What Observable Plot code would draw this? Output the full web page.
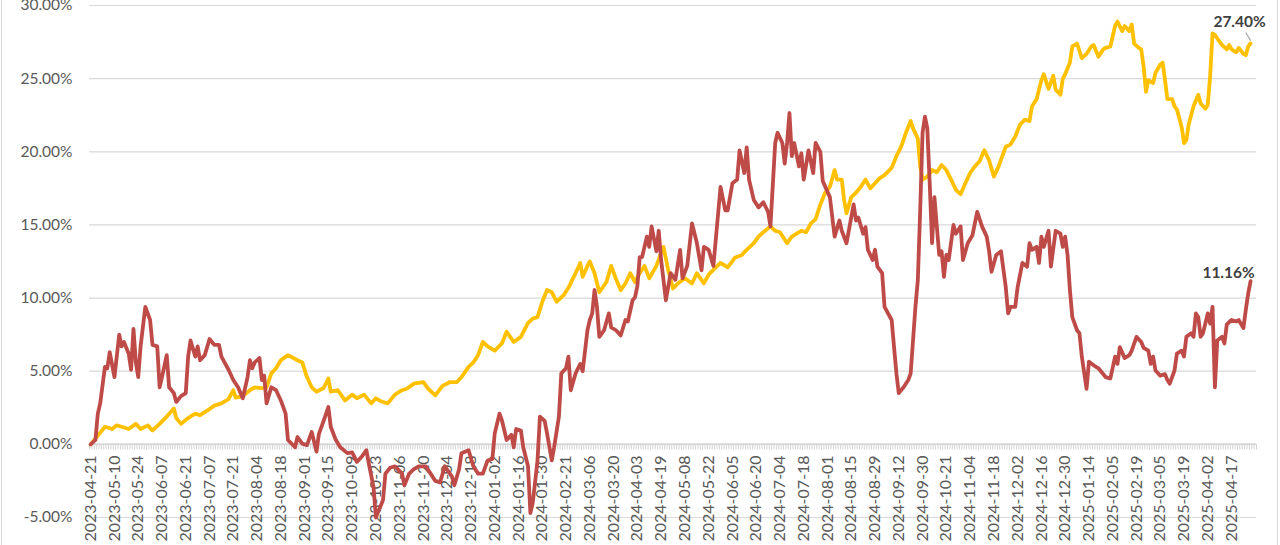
<!DOCTYPE html>
<html>
<head>
<meta charset="utf-8">
<script src="https://cdn.jsdelivr.net/npm/d3@7"></script>
<script src="https://cdn.jsdelivr.net/npm/@observablehq/plot@0.6"></script>
<style>
  html, body { margin: 0; padding: 0; background: #fff; overflow: hidden; }
  #wrap { position: relative; width: 1280px; height: 545px; }
  .edge { position: absolute; top: 0; width: 1px; height: 545px; background: #d9d9d9; }
</style>
</head>
<body>
<div id="wrap">
  <div class="edge" style="left:1px"></div>
  <div class="edge" style="left:1277px"></div>
</div>
<script>
// Category axis: trading days, labelled every 10th day
const tickLabels = [
  "2023-04-21","2023-05-10","2023-05-24","2023-06-07","2023-06-21","2023-07-07","2023-07-21",
  "2023-08-04","2023-08-18","2023-09-01","2023-09-15","2023-10-09","2023-10-23","2023-11-06",
  "2023-11-20","2023-12-04","2023-12-18","2024-01-02","2024-01-16","2024-01-30","2024-02-21",
  "2024-03-06","2024-03-20","2024-04-03","2024-04-19","2024-05-08","2024-05-22","2024-06-05",
  "2024-06-20","2024-07-04","2024-07-18","2024-08-01","2024-08-15","2024-08-29","2024-09-12",
  "2024-09-30","2024-10-21","2024-11-04","2024-11-18","2024-12-02","2024-12-16","2024-12-30",
  "2025-01-14","2025-02-05","2025-02-19","2025-03-05","2025-03-19","2025-04-02","2025-04-17"
];
const tickStep = 10;
const categoryCount = 491;
const yTicks = [-5, 0, 5, 10, 15, 20, 25, 30];

// Red series (trading-day index, cumulative return %)
const redDay = [0,2,3,4,6,7,8,10,12,13,14,16,17,18,19,20,21,23,25,26,28,29,30,32,33,35,36,38,40,41,42,44,45,46,48,50,52,54,55,58,60,62,64,66,67,68,69,71,72,73,74,76,78,80,82,83,
86,87,89,91,93,95,96,98,100,101,103,105,108,110,112,114,116,117,119,120,121,123,124,126,128,131,132,134,136,138,141,143,145,147,149,152,153,155,156,159,161,163,165,167,169,170,172,173,175,177,178,179,181,182,184,185,186,188,189,191,192,194,195,197,198,200,201,202,204,206,207,209,210,211,212,213,214,216,218,219,221,223,225,226,228,229,230,231,232,234,235,236,238,239,240,242,244,246,248,249,251,253,255,
257,258,260,262,263,265,267,268,270,272,273,275,276,277,279,281,283,285,286,288,289,291,292,293,294,295,296,298,299,300,302,304,305,307,308,311,313,315,316,318,321,322,323,325,326,327,329,330,331,333,334,337,338,339,340,342,344,345,347,348,349,350,351,352,353,354,355,356,357,358,359,360,361,363,364,366,367,369,371,372,373,375,377,378,379,381,383,385,386,387,389,390,392,394,395,396,398,399,400,401,403,404,406,408,409,410,411,412,413,415,416,417,419,420,422,424,
427,429,431,432,433,435,437,438,440,442,443,445,446,447,448,450,452,453,454,456,457,459,460,461,463,464,465,466,467,468,470,471,472,473,474,476,477,478,480,482,483,485,486,487,488];
const redVal = [0.0,0.3,2.1,2.8,5.3,5.2,6.3,4.6,7.5,6.7,7.0,6.2,5.1,7.9,5.6,4.6,6.7,9.4,8.5,6.8,6.7,3.9,4.6,6.1,3.9,3.5,2.9,3.3,3.5,6.0,7.1,6.0,6.7,5.75,6.1,7.2,6.8,6.8,6.0,5.1,4.4,3.9,3.15,4.6,5.75,5.2,5.6,5.9,4.4,4.7,2.8,3.9,3.7,3.0,2.1,0.3,
-0.2,0.5,0.05,-0.05,0.85,-0.5,0.7,1.6,2.55,1.2,0.35,-0.2,-0.6,-0.55,-1.2,-0.85,-0.4,-1.3,-2.9,-5.0,-4.6,-3.8,-2.0,-1.6,-1.5,-2.0,-2.8,-2.0,-1.7,-1.5,-1.5,-2.0,-2.5,-2.6,-1.5,-2.2,-2.8,-1.7,-0.6,-0.4,-1.5,-2.0,-2.0,-1.1,-1.0,0.75,2.1,1.65,0.3,0.65,-0.2,1.05,0.95,-0.2,-1.5,-4.7,-4.0,-1.1,1.9,1.6,0.75,-1.1,-0.2,1.9,4.85,5.2,6.0,3.7,4.85,5.5,5.0,7.8,8.5,8.95,10.55,9.4,7.35,7.8,8.95,8.0,7.8,7.45,8.5,8.4,9.85,10.05,10.8,12.8,12.8,14.2,13.5,14.9,13.2,14.6,12.6,9.85,11.7,11.25,13.3,11.35,12.2,15.1,13.8,
11.9,13.5,13.3,12.2,14.0,17.6,16.0,16.0,17.85,18.1,20.1,18.55,20.3,18.1,16.7,16.2,16.55,15.9,14.9,20.6,21.3,20.6,19.2,20.6,22.65,19.7,20.6,19.0,19.9,18.1,20.1,18.55,20.6,20.0,18.0,16.9,14.2,15.3,14.6,13.75,16.4,15.3,15.5,14.4,14.85,13.3,12.6,13.3,12.15,11.7,9.4,8.5,6.65,4.85,3.5,3.9,4.4,4.85,9.4,11.2,16.0,21.3,22.4,21.6,17.85,13.75,16.9,14.9,12.95,13.2,11.45,12.95,12.6,15.0,14.4,14.9,12.6,13.75,14.3,15.1,15.9,14.9,14.2,13.2,11.8,12.95,13.2,10.75,8.95,9.4,9.4,10.75,12.4,12.15,13.75,13.3,13.5,12.4,14.2,13.5,14.6,12.15,14.6,14.4,13.5,14.2,12.95,10.55,8.7,7.8,7.6,6.0,3.8,5.65,5.4,5.2,
4.6,4.5,6.0,5.5,6.65,5.9,6.1,6.4,7.35,7.0,6.6,6.4,5.5,6.0,5.05,4.7,4.8,4.4,4.15,5.05,6.2,6.4,6.0,7.35,7.6,7.35,8.95,8.7,7.35,7.6,8.95,8.25,9.4,3.9,7.1,7.35,6.9,8.2,8.5,8.4,8.5,7.95,9.2,10.3,11.16];

// Gold series (trading-day index, cumulative return %)
const goldDay = [0,3,6,9,11,13,16,19,21,24,26,29,32,35,36,38,41,44,46,49,52,55,58,60,61,64,67,69,72,74,76,78,80,83,
87,89,91,93,95,98,100,101,104,107,110,112,115,118,120,122,125,128,131,133,136,140,142,145,148,151,154,156,159,161,163,165,167,170,173,175,178,181,184,186,188,190,192,194,196,199,201,204,206,207,209,210,212,214,217,219,221,223,225,227,229,231,233,235,238,240,241,243,245,247,250,253,255,
258,260,263,265,268,271,274,276,279,281,283,286,288,290,293,295,297,299,301,303,305,307,309,311,313,314,316,317,318,320,322,324,326,328,330,332,334,337,339,341,343,345,346,348,349,350,352,354,356,358,360,362,364,366,368,370,372,374,376,378,380,382,385,387,389,391,393,395,396,398,400,401,403,405,406,408,409,410,412,413,415,416,417,419,421,422,424,
426,427,429,431,432,434,435,437,438,439,441,442,443,444,445,447,448,450,451,452,453,455,456,457,459,460,461,462,463,464,466,467,469,470,471,472,473,475,476,478,479,480,482,483,485,486,487,488];
const goldVal = [0.0,0.6,1.2,1.05,1.3,1.2,1.05,1.4,1.05,1.3,0.95,1.4,1.9,2.45,1.8,1.4,1.8,2.1,2.0,2.3,2.65,2.8,3.1,3.7,3.2,3.3,3.7,3.9,3.85,3.9,4.85,5.2,5.75,6.1,
5.75,5.6,4.6,3.9,3.6,3.85,4.5,3.6,3.7,3.0,3.4,3.15,3.4,2.8,3.15,2.95,2.8,3.4,3.7,3.8,4.15,4.25,3.8,3.35,4.0,4.25,4.25,4.6,5.3,5.6,6.1,7.0,6.7,6.4,6.9,7.7,7.0,7.35,8.3,8.6,8.7,9.75,10.55,10.4,9.75,10.2,10.7,11.7,12.4,11.45,12.2,12.5,11.7,10.4,11.1,12.2,11.3,10.55,11.0,11.7,11.1,11.7,12.2,11.35,12.2,13.1,13.5,11.9,10.65,11.0,11.35,11.0,11.7,
11.0,11.6,12.1,12.4,12.1,12.75,12.95,13.3,13.75,14.2,14.5,14.9,14.6,14.5,13.75,14.2,14.4,14.6,14.5,15.1,15.4,16.4,17.2,17.6,18.75,18.1,18.1,16.7,15.8,16.9,17.2,17.6,18.1,17.5,17.85,18.2,18.4,18.9,19.7,20.35,21.3,22.1,21.6,20.9,19.0,18.1,18.3,18.75,18.6,19.1,18.75,18.1,17.4,17.1,17.85,18.55,19.0,19.35,20.1,19.4,18.3,19.0,20.35,20.5,21.05,21.85,22.2,22.1,23.1,23.6,24.9,25.3,24.3,25.2,24.25,23.9,25.0,25.3,26.1,27.2,27.4,26.9,26.4,26.7,27.2,27.3,26.5,
27.0,27.1,27.2,28.6,28.9,28.25,28.6,28.25,28.7,27.4,27.1,27.0,25.85,24.1,24.9,24.7,25.4,25.95,26.1,24.9,23.6,23.6,23.1,22.9,21.7,20.6,20.8,21.9,22.5,23.1,23.9,23.3,22.95,23.2,25.2,28.1,28.0,27.5,27.3,27.0,27.3,27.0,26.8,27.1,26.7,26.6,27.2,27.4];

// End-of-series labels
const goldLabel = "27.40%";
const redLabel = "11.16%";

const gold = goldDay.map((d, i) => ({day: d, value: goldVal[i]}));
const red = redDay.map((d, i) => ({day: d, value: redVal[i]}));
const goldEnd = [{...gold[gold.length - 1], text: goldLabel}];
const redEnd = [{...red[red.length - 1], text: redLabel}];
const ticksData = tickLabels.map((t, k) => ({day: k * tickStep, label: t}));
const catEdges = d3.range(categoryCount + 1).map(i => i - 0.5);

const chart = Plot.plot({
  width: 1280,
  height: 545,
  marginLeft: 89,
  marginRight: 24,
  marginTop: 5,
  marginBottom: 28,
  style: {fontFamily: "Lato, 'Liberation Sans', sans-serif", fontSize: "15.5px", color: "#595959", background: "transparent", overflow: "visible"},
  x: {type: "linear", domain: [-0.5, categoryCount - 0.5], axis: null},
  y: {domain: [-5, 30], axis: null},
  marks: [
    Plot.gridY(yTicks, {stroke: "#d9d9d9", strokeOpacity: 1, strokeWidth: 1.2}),
    Plot.axisY(yTicks, {anchor: "left", label: null, tickSize: 0, tickPadding: 17, tickFormat: d => d.toFixed(2) + "%", fill: "#595959"}),
    Plot.ruleX(catEdges, {x: d => d, y1: 0, y2: -0.38, stroke: "#d3d3d3", strokeWidth: 1}),
    Plot.ruleY([0], {stroke: "#d3d3d3", strokeWidth: 1.5}),
    Plot.text(ticksData, {x: "day", y: 0, text: "label", rotate: -90, textAnchor: "end", dy: 11, fontSize: 16, fill: "#595959"}),
    Plot.line(gold, {x: "day", y: "value", stroke: "#FFC000", strokeWidth: 3.8, strokeLinejoin: "round", strokeLinecap: "round"}),
    Plot.line(red, {x: "day", y: "value", stroke: "#BE4B48", strokeWidth: 3.8, strokeLinejoin: "round", strokeLinecap: "round"}),
    Plot.link(goldEnd, {x1: d => d.day - 2, y1: d => d.value + 0.75, x2: "day", y2: d => d.value + 0.2, stroke: "#a6a6a6", strokeWidth: 1.2}),
    Plot.text(goldEnd, {x: "day", y: "value", text: "text", dx: -11, dy: -22, fontWeight: "bold", fontSize: 15.5, fill: "#404040"}),
    Plot.text(redEnd, {x: "day", y: "value", text: "text", dx: -22, dy: -8, fontWeight: "bold", fontSize: 15.5, fill: "#404040"})
  ]
});
document.getElementById("wrap").appendChild(chart);
</script>
</body>
</html>
